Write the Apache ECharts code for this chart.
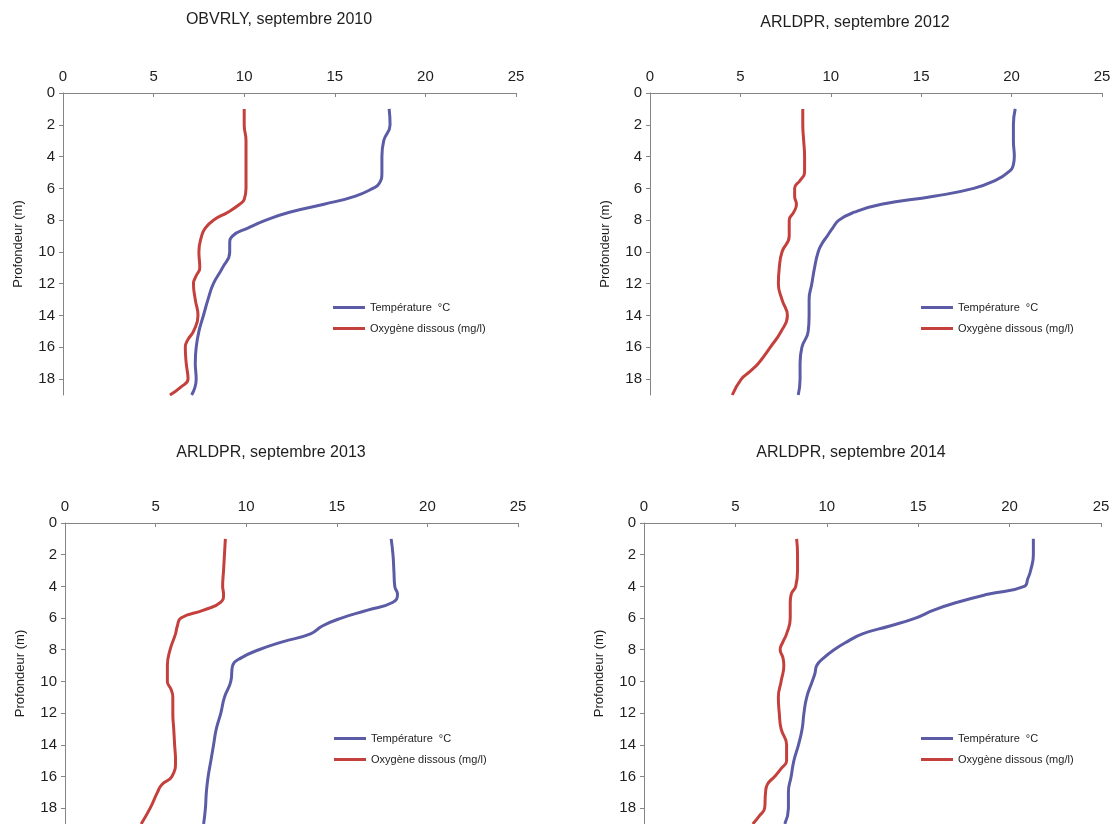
<!DOCTYPE html>
<html>
<head>
<meta charset="utf-8">
<title>Profils température / oxygène</title>
<script src="https://cdn.jsdelivr.net/npm/echarts@6/dist/echarts.min.js"></script>
<style>
  html, body { margin: 0; padding: 0; background: #fff; }
  #main { width: 1117px; height: 824px; }
</style>
</head>
<body>
<div id="main"></div>
<script>
var titles = ['OBVRLY, septembre 2010', 'ARLDPR, septembre 2012', 'ARLDPR, septembre 2013', 'ARLDPR, septembre 2014'];
var seriesNames = ['Température  °C', 'Oxygène dissous (mg/l)'];
var xTicks = [0, 5, 10, 15, 20, 25];
var depthTicks = [0, 2, 4, 6, 8, 10, 12, 14, 16, 18];

// [profondeur (m), valeur]
var temp2010 = [[1,18.0],[2,18.05],[3,17.7],[4,17.6],[5,17.6],[5.7,17.45],[6,17.1],[6.5,16.1],[7,14.4],[7.5,12.5],[8,11.2],[8.5,10.2],[9,9.35],[9.5,9.2],[10,9.2],[11,8.8],[12,8.3],[13,8.0],[14,7.75],[15,7.5],[16,7.35],[17,7.3],[18,7.35],[19,7.1]];
var oxy2010 = [[1,10.0],[2,10.0],[3,10.1],[4,10.1],[5,10.1],[6,10.1],[6.7,10.0],[7,9.75],[7.5,9.1],[8,8.3],[8.5,7.85],[9,7.65],[10,7.5],[11,7.55],[11.5,7.35],[12,7.2],[13,7.3],[14,7.45],[15,7.2],[15.5,6.9],[16,6.75],[17,6.8],[18,6.9],[18.5,6.5],[19,5.9]];

var temp2012 = [[1,20.2],[2,20.1],[3,20.1],[4,20.15],[4.5,20.1],[5,19.8],[5.5,19.1],[6,17.9],[6.5,15.7],[7,12.8],[7.5,11.3],[8,10.45],[8.5,10.1],[9,9.8],[9.5,9.5],[10,9.3],[11,9.1],[12,8.95],[13,8.8],[14,8.8],[15,8.75],[16,8.4],[17,8.3],[18,8.3],[19,8.2]];
var oxy2012 = [[1,8.45],[2,8.45],[3,8.5],[4,8.55],[5,8.55],[5.5,8.3],[6,8.0],[6.5,8.0],[7,8.1],[7.5,7.95],[8,7.7],[9,7.7],[10,7.3],[11,7.15],[12,7.1],[13,7.3],[14,7.6],[15,7.25],[16,6.65],[17,6.0],[17.5,5.55],[18,5.05],[19,4.55]];

var temp2013 = [[1,18.0],[2,18.1],[3,18.15],[4,18.2],[4.5,18.35],[5,18.1],[5.5,16.7],[6,15.25],[6.5,14.2],[7,13.55],[7.5,12.0],[8,10.7],[8.5,9.75],[9,9.25],[10,9.15],[11,8.8],[12,8.6],[13,8.35],[14,8.2],[15,8.05],[16,7.9],[17,7.8],[18,7.75],[19,7.65]];
var oxy2013 = [[1,8.85],[2,8.8],[3,8.75],[4,8.7],[4.5,8.75],[5,8.6],[5.5,7.65],[6,6.4],[6.5,6.2],[7,6.1],[8,5.8],[9,5.65],[10,5.65],[10.5,5.85],[11,5.95],[12,5.95],[13,6.0],[14,6.05],[15,6.1],[16,5.9],[16.5,5.35],[17,5.1],[18,4.7],[19,4.2]];

var temp2014 = [[1,21.3],[2,21.3],[3,21.15],[3.5,21.0],[4,20.8],[4.5,18.8],[5,17.15],[5.5,15.85],[6,14.85],[6.5,13.45],[7,11.95],[7.5,11.1],[8,10.4],[8.5,9.85],[9,9.45],[9.5,9.35],[10,9.2],[11,8.9],[12,8.75],[13,8.65],[14,8.45],[15,8.2],[16,8.05],[17,7.9],[18,7.9],[19,7.7]];
var oxy2014 = [[1,8.35],[2,8.4],[3,8.4],[4,8.3],[4.5,8.05],[5,8.0],[6,8.0],[7,7.8],[7.5,7.6],[8,7.45],[8.5,7.6],[9,7.65],[10,7.5],[11,7.35],[12,7.4],[13,7.5],[14,7.8],[15,7.8],[15.5,7.5],[16,7.15],[16.5,6.75],[17,6.65],[18,6.6],[18.5,6.3],[19,5.95]];

var profiles = [[temp2010, oxy2010], [temp2012, oxy2012], [temp2013, oxy2013], [temp2014, oxy2014]];

var grids = [
    {left: 63, top: 93, width: 453, height: 302},
    {left: 650, top: 93, width: 452, height: 302},
    {left: 65, top: 523, width: 453, height: 301},
    {left: 644, top: 523, width: 457, height: 301}
];
var titlePos = [[279, 12], [855, 15], [271, 445], [851, 445]];
var legendPos = [[333, 302], [921, 302], [334, 733], [921, 733]];
var colors = ['#5b5ba6', '#c4403c'];

var chart = echarts.init(document.getElementById('main'));
var axisColor = '#858585';
var textColor = '#1e1e1e';
var font = 'Liberation Sans, Arial, sans-serif';

var option = {
    animation: false,
    backgroundColor: '#fff',
    textStyle: {fontFamily: font},
    title: [],
    legend: [],
    grid: grids,
    xAxis: [],
    yAxis: [],
    series: []
};

for (var i = 0; i < 4; i++) {
    option.title.push({
        text: titles[i],
        left: titlePos[i][0],
        top: titlePos[i][1],
        textAlign: 'center',
        padding: 0,
        textStyle: {fontSize: 16, fontWeight: 'normal', color: textColor, fontFamily: font}
    });
    option.legend.push({
        data: seriesNames,
        orient: 'vertical',
        left: legendPos[i][0],
        top: legendPos[i][1],
        padding: 0,
        itemGap: 10,
        itemWidth: 32,
        itemHeight: 3,
        icon: 'rect',
        textStyle: {fontSize: 11, color: textColor, fontFamily: font}
    });
    option.xAxis.push({
        type: 'value',
        gridIndex: i,
        position: 'top',
        min: 0,
        max: 25,
        interval: 5,
        splitLine: {show: false},
        axisLine: {show: true, lineStyle: {color: axisColor, width: 1}},
        axisTick: {show: true, inside: true, length: 4, lineStyle: {color: axisColor}},
        axisLabel: {
            margin: 9, fontSize: 15, color: textColor, fontFamily: font,
            customValues: xTicks
        }
    });
    option.yAxis.push({
        type: 'value',
        gridIndex: i,
        inverse: true,
        min: 0,
        max: 19,
        name: 'Profondeur (m)',
        nameLocation: 'middle',
        nameGap: 38,
        nameTextStyle: {fontSize: 13, color: textColor, fontFamily: font},
        splitLine: {show: false},
        axisLine: {show: true, onZero: false, lineStyle: {color: axisColor, width: 1}},
        axisTick: {show: true, length: 4, lineStyle: {color: axisColor}, customValues: depthTicks},
        axisLabel: {
            margin: 8, fontSize: 15, color: textColor, fontFamily: font,
            customValues: depthTicks
        }
    });
    for (var s = 0; s < 2; s++) {
        option.series.push({
            name: seriesNames[s],
            type: 'line',
            xAxisIndex: i,
            yAxisIndex: i,
            smooth: 0.5,
            showSymbol: false,
            symbol: 'none',
            color: colors[s],
            lineStyle: {width: 3, color: colors[s]},
            data: profiles[i][s].map(function (p) { return [p[1], p[0]]; })
        });
    }
}

chart.setOption(option);
</script>
</body>
</html>
